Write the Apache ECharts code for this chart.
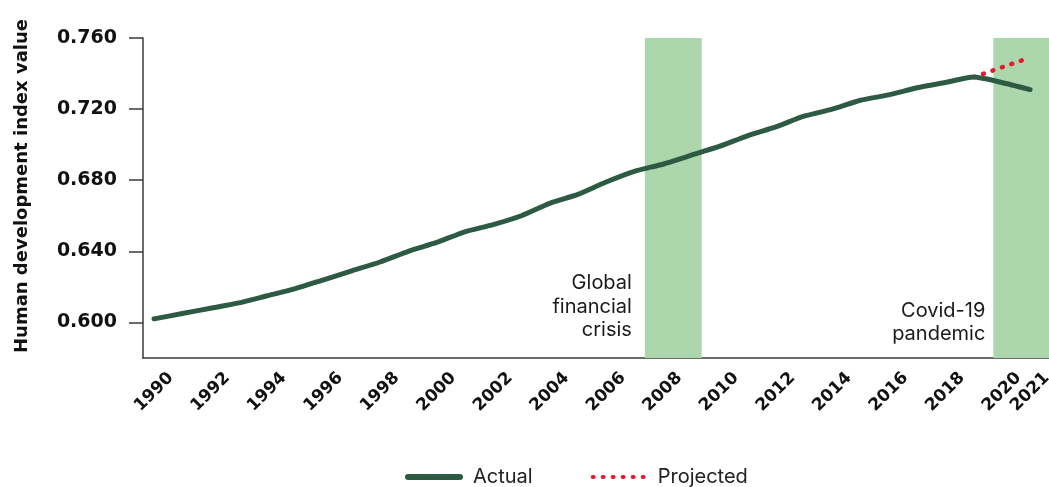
<!DOCTYPE html>
<html>
<head>
<meta charset="utf-8">
<script src="https://cdn.jsdelivr.net/npm/echarts@6/dist/echarts.min.js"></script>
<style>
html,body{margin:0;padding:0;background:#fff;}
#chart{width:1049px;height:487px;}
</style>
</head>
<body>
<div id="chart"></div>
<script>
const years = [1990,1991,1992,1993,1994,1995,1996,1997,1998,1999,2000,2001,2002,2003,2004,2005,2006,2007,2008,2009,2010,2011,2012,2013,2014,2015,2016,2017,2018,2019,2020,2021];
const actual = [0.602,0.605,0.608,0.611,0.615,0.619,0.624,0.629,0.634,0.640,0.645,0.651,0.655,0.660,0.667,0.672,0.679,0.685,0.689,0.694,0.699,0.705,0.710,0.716,0.720,0.725,0.728,0.732,0.735,0.738,0.735,0.731];
const projectedYears = [2019,2020,2021];
const projected = [0.738,0.7435,0.749];
const xTickLabels = [1990,1992,1994,1996,1998,2000,2002,2004,2006,2008,2010,2012,2014,2016,2018,2020,2021];
const yTickLabels = [0.600,0.640,0.680,0.720,0.760];
const crisisStart = [2007.37, 2019.7];
const crisisEnd = [2009.38, 2021.67];
const crisisNames = ['Global\nfinancial\ncrisis', 'Covid-19\npandemic'];

const chart = echarts.init(document.getElementById('chart'));
const FONT = 'Inter';
const BOLD = 'DejaVu Sans';
const GREEN = '#2c5a43';
const RED = '#e8192c';
const labelPos = [[-13, 304], [-8, 308]];
chart.setOption({
  animation: false,
  grid: {left: 143, right: 0, top: 38, bottom: 129, containLabel: false, outerBoundsMode: 'none'},
  xAxis: {
    type: 'value', min: 1989.61, max: 2021.67,
    splitLine: {show: false},
    axisLine: {show: true, lineStyle: {color: '#3a3a3a', width: 1.5}},
    axisTick: {show: false},
    axisLabel: {
      customValues: xTickLabels, rotate: 45, margin: 34,
      align: 'center', verticalAlign: 'middle', hideOverlap: false,
      fontFamily: BOLD, fontWeight: 'bold', fontSize: 17, color: '#111',
      formatter: v => String(Math.round(v))
    }
  },
  yAxis: {
    type: 'value', min: 0.58, max: 0.76,
    name: 'Human development index value', nameLocation: 'middle', nameGap: 112,
    nameTextStyle: {fontFamily: BOLD, fontWeight: 'bold', fontSize: 18, color: '#111', padding: [0, 0, 0, 24]},
    splitLine: {show: false},
    axisLine: {show: true, lineStyle: {color: '#3a3a3a', width: 1.5}},
    axisTick: {show: true, customValues: yTickLabels, length: 14, lineStyle: {color: '#3a3a3a', width: 1.5}},
    axisLabel: {
      customValues: yTickLabels, margin: 26,
      fontFamily: BOLD, fontWeight: 'bold', fontSize: 19, color: '#111',
      formatter: v => v.toFixed(3)
    }
  },
  legend: {
    left: 400, top: 462, itemWidth: 52, itemHeight: 14, itemGap: 58,
    textStyle: {fontFamily: FONT, fontSize: 20, color: '#222', padding: [0, 0, 0, 8]},
    data: [
      {name: 'Actual', itemStyle: {opacity: 0}, lineStyle: {color: GREEN, width: 6, cap: 'round'}},
      {name: 'Projected', itemStyle: {opacity: 0}, lineStyle: {color: RED, width: 4, type: [1, 9], cap: 'round'}}
    ]
  },
  series: [
    {
      name: 'Actual', type: 'line', symbol: 'none', smooth: 0.2, z: 3,
      data: years.map((y, i) => [y, actual[i]]),
      lineStyle: {color: GREEN, width: 5, cap: 'round', join: 'round'},
      itemStyle: {color: GREEN},
      markArea: {
        silent: true,
        itemStyle: {color: '#acd7ac'},
        label: {
          show: true, align: 'right', verticalAlign: 'bottom',
          fontFamily: FONT, fontSize: 20, lineHeight: 23.5, color: '#1a1a1a'
        },
        data: crisisStart.map((s, i) => [
          {xAxis: s, name: crisisNames[i], label: {position: labelPos[i]}},
          {xAxis: crisisEnd[i]}
        ])
      }
    },
    {
      name: 'Projected', type: 'line', symbol: 'none', z: 2,
      data: projectedYears.map((y, i) => [y, projected[i]]),
      lineStyle: {color: RED, width: 4.5, type: [1, 9], cap: 'round'},
      itemStyle: {color: RED}
    }
  ]
});
</script>
</body>
</html>
